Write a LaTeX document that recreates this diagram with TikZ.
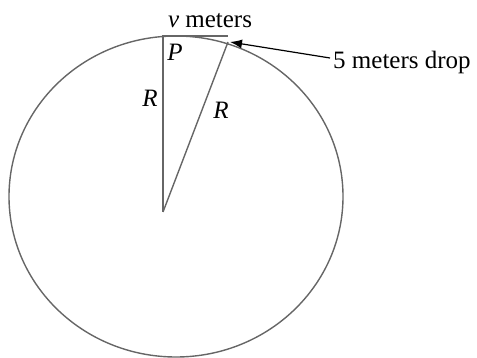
\documentclass[tikz,border=0pt]{standalone}
\usepackage{fontspec}
\setmainfont{Liberation Serif}
\usetikzlibrary{arrows.meta}
\begin{document}
\begin{tikzpicture}[x=1pt,y=-1pt,
  geo/.style={draw=black!60, line width=1.4pt},
  lbl/.style={inner sep=0pt, font=\fontsize{25}{30}\selectfont}]
\useasboundingbox (0,0) rectangle (477,358);
\draw[geo] (176,196.5) ellipse [x radius=167, y radius=160.5];
\coordinate (c) at (163,212);
\coordinate (t) at (163,36);
\coordinate (h) at (228,36);
\coordinate (e) at (228,42);
\draw[geo] (c) -- (t) -- (h);
\draw[geo] (c) -- (e);
\node[lbl] (vm) at (210,21) {\textit{v} meters};
\node[lbl] (P) at (175,52) {\textit{P}};
\node[lbl] (R1) at (150,98) {\textit{R}};
\node[lbl] (R2) at (221,110) {\textit{R}};
\node[lbl, anchor=west] (drop) at (333,62) {5 meters drop};
\coordinate (tip) at (230,42);
\draw[line width=1.2pt, -{Latex[length=12pt,width=9pt]}] (drop.west) ++(-3,-4) -- (tip);
\end{tikzpicture}
\end{document}
